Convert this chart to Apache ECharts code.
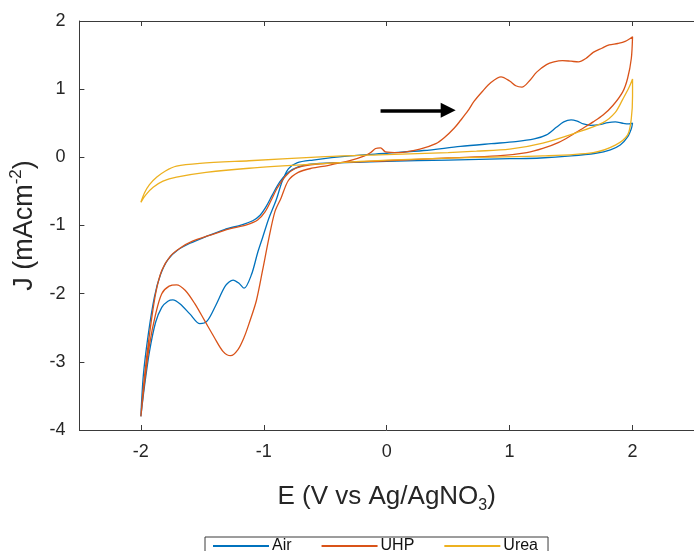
<!DOCTYPE html>
<html>
<head>
<meta charset="utf-8">
<script src="https://cdn.jsdelivr.net/npm/echarts@6/dist/echarts.min.js"></script>
<style>
html,body{margin:0;padding:0;background:#fff;}
#chart{width:694px;height:551px;}
</style>
</head>
<body>
<div id="chart"></div>
<script>
// ---- data (E in V vs Ag/AgNO3, J in mA cm^-2) ----
const seriesNames = ['Air', 'UHP', 'Urea'];
const xTicks = [-2, -1, 0, 1, 2];
const yTicks = [-4, -3, -2, -1, 0, 1, 2];

const airE = [-2.00,-1.97,-1.93,-1.88,-1.83,-1.78,-1.74,-1.68,-1.60,-1.52,-1.46,-1.39,-1.31,-1.25,-1.20,-1.16,-1.10,-1.05,-1.01,-0.96,-0.90,-0.85,-0.80,-0.73,-0.60,-0.30,0.00,0.30,0.60,0.85,1.05,1.20,1.30,1.38,1.44,1.50,1.55,1.60,1.66,1.73,1.80,1.86,1.92,1.97,2.00,
  1.99,1.96,1.90,1.82,1.70,1.50,1.25,1.00,0.50,0.00,-0.40,-0.62,-0.72,-0.80,-0.87,-0.93,-0.98,-1.03,-1.09,-1.18,-1.32,-1.48,-1.60,-1.70,-1.78,-1.84,-1.89,-1.94,-1.98,-2.00];
const airJ = [-3.80,-3.35,-2.85,-2.42,-2.20,-2.11,-2.09,-2.15,-2.30,-2.44,-2.40,-2.17,-1.88,-1.80,-1.85,-1.92,-1.72,-1.40,-1.18,-0.90,-0.63,-0.35,-0.17,-0.08,-0.04,0.02,0.06,0.10,0.16,0.20,0.23,0.27,0.33,0.44,0.52,0.55,0.53,0.49,0.47,0.48,0.51,0.52,0.50,0.49,0.50,
  0.42,0.30,0.18,0.11,0.06,0.02,-0.01,-0.02,-0.04,-0.06,-0.08,-0.10,-0.14,-0.22,-0.36,-0.55,-0.72,-0.85,-0.93,-0.99,-1.06,-1.17,-1.26,-1.36,-1.50,-1.72,-2.05,-2.60,-3.20,-3.80];

const uhpE = [-2.00,-1.97,-1.93,-1.88,-1.83,-1.77,-1.71,-1.64,-1.56,-1.48,-1.40,-1.33,-1.27,-1.21,-1.16,-1.12,-1.06,-1.01,-0.96,-0.91,-0.86,-0.80,-0.72,-0.61,-0.48,-0.30,-0.18,-0.13,-0.09,-0.05,-0.01,0.10,0.27,0.40,0.47,0.55,0.60,0.66,0.71,0.78,0.85,0.93,1.00,1.05,1.10,1.16,1.22,1.30,1.36,1.43,1.50,1.56,1.62,1.68,1.75,1.81,1.88,1.94,2.00,
  1.99,1.96,1.92,1.84,1.76,1.68,1.60,1.50,1.40,1.27,1.14,0.90,0.50,0.00,-0.40,-0.62,-0.74,-0.82,-0.89,-0.94,-0.99,-1.05,-1.14,-1.28,-1.45,-1.58,-1.68,-1.76,-1.83,-1.88,-1.93,-1.97,-2.00];
const uhpJ = [-3.80,-3.30,-2.75,-2.30,-2.00,-1.89,-1.87,-1.95,-2.15,-2.40,-2.65,-2.85,-2.91,-2.82,-2.64,-2.44,-2.10,-1.66,-1.20,-0.80,-0.60,-0.34,-0.22,-0.16,-0.12,-0.05,0.02,0.07,0.13,0.14,0.08,0.07,0.12,0.20,0.29,0.43,0.54,0.68,0.82,0.97,1.10,1.18,1.12,1.05,1.03,1.12,1.25,1.36,1.40,1.42,1.41,1.40,1.45,1.54,1.60,1.65,1.67,1.70,1.77,
  1.45,1.16,0.96,0.76,0.62,0.52,0.43,0.32,0.22,0.13,0.07,0.02,-0.01,-0.05,-0.08,-0.11,-0.16,-0.27,-0.45,-0.63,-0.80,-0.92,-0.99,-1.05,-1.15,-1.23,-1.33,-1.45,-1.66,-2.00,-2.60,-3.20,-3.80];

const ureaE = [-2.00,-1.97,-1.93,-1.87,-1.80,-1.71,-1.52,-1.12,-0.50,0.00,0.50,0.73,1.00,1.27,1.54,1.76,1.86,1.92,1.97,2.00,
  2.00,1.99,1.96,1.86,1.68,1.27,0.73,0.00,-0.50,-1.12,-1.47,-1.71,-1.82,-1.90,-1.96,-2.00];
const ureaJ = [-0.66,-0.52,-0.40,-0.29,-0.20,-0.13,-0.09,-0.05,0.01,0.04,0.07,0.09,0.12,0.21,0.36,0.51,0.66,0.85,1.02,1.15,
  0.90,0.57,0.33,0.18,0.07,0.02,0.00,-0.04,-0.09,-0.16,-0.22,-0.29,-0.35,-0.44,-0.55,-0.66];

// scan-direction arrow annotation (data coordinates)
const arrowE = [-0.05, 0.50];
const arrowJ = 0.69;

// ---- styling ----
const colors = ['#0072BD', '#D95319', '#EDB120'];
const FONT = '"Liberation Sans", Arial, sans-serif';
const AXIS_COLOR = '#3a3a3a';
const TEXT_COLOR = '#262626';

function zip(xs, ys) { return xs.map((x, i) => [x, ys[i]]); }

const curves = [zip(airE, airJ), zip(uhpE, uhpJ), zip(ureaE, ureaJ)];

const chart = echarts.init(document.getElementById('chart'), null, {renderer: 'canvas'});

const tickLabelStyle = {fontFamily: FONT, fontSize: 18, color: TEXT_COLOR};

const option = {
  animation: false,
  backgroundColor: '#ffffff',
  grid: {left: 78, top: 21, width: 621, height: 409, containLabel: false},
  legend: {
    data: seriesNames,
    left: 205,
    top: 537,
    icon: 'rect',
    itemWidth: 56,
    itemHeight: 2,
    itemGap: 30,
    padding: [1, 10, 12, 8],
    borderColor: '#3a3a3a',
    borderWidth: 1,
    textStyle: {fontFamily: FONT, fontSize: 16, color: '#111', padding: [0, 0, 0, -2]}
  },
  xAxis: [{
    type: 'value', min: -2.5, max: 2.5, position: 'bottom',
    axisLine: {show: true, onZero: false, lineStyle: {color: AXIS_COLOR, width: 1}},
    axisTick: {show: true, inside: true, length: 5, customValues: xTicks, lineStyle: {color: AXIS_COLOR}},
    axisLabel: Object.assign({customValues: xTicks, margin: 13}, tickLabelStyle),
    splitLine: {show: false},
    name: '{n|E (V vs Ag/AgNO}{s|3}{n|)}',
    nameLocation: 'middle',
    nameGap: 50,
    nameTextStyle: {
      rich: {
        n: {fontFamily: FONT, fontSize: 26, color: TEXT_COLOR, lineHeight: 34},
        s: {fontFamily: FONT, fontSize: 16, color: TEXT_COLOR, lineHeight: 16, verticalAlign: 'bottom'}
      }
    }
  }, {
    type: 'value', min: -2.5, max: 2.5, position: 'top',
    axisLine: {show: true, onZero: false, lineStyle: {color: AXIS_COLOR, width: 1}},
    axisTick: {show: true, inside: true, length: 5, customValues: xTicks, lineStyle: {color: AXIS_COLOR}},
    axisLabel: {show: false},
    splitLine: {show: false}
  }],
  yAxis: {
    type: 'value', min: -4, max: 2, interval: 1,
    axisLine: {show: true, onZero: false, lineStyle: {color: AXIS_COLOR, width: 1}},
    axisTick: {show: true, inside: true, length: 5, lineStyle: {color: AXIS_COLOR}},
    axisLabel: Object.assign({margin: 14}, tickLabelStyle),
    splitLine: {show: false},
    name: '{n|J (mAcm}{s|-2}{n|)}',
    nameLocation: 'middle',
    nameGap: 30,
    nameTextStyle: {
      rich: {
        n: {fontFamily: FONT, fontSize: 27, color: TEXT_COLOR, lineHeight: 34},
        s: {fontFamily: FONT, fontSize: 17, color: TEXT_COLOR, lineHeight: 17, verticalAlign: 'top'}
      }
    }
  },
  series: seriesNames.map((name, i) => ({
    name: name,
    type: 'line',
    data: curves[i],
    showSymbol: false,
    symbol: 'none',
    smooth: 0.3,
    lineStyle: {color: colors[i], width: 1.3},
    itemStyle: {color: colors[i]},
    z: 2 + i
  })).concat([{
    type: 'lines',
    coordinateSystem: 'cartesian2d',
    xAxisIndex: 0, yAxisIndex: 0,
    symbol: ['none', 'triangle'],
    symbolSize: [15, 15],
    lineStyle: {color: '#000', width: 3.5, opacity: 1, curveness: 0},
    itemStyle: {color: '#000'},
    data: [{coords: [[arrowE[0], arrowJ], [arrowE[1], arrowJ]]}],
    z: 10,
    silent: true
  }])
};

chart.setOption(option);
</script>
</body>
</html>
